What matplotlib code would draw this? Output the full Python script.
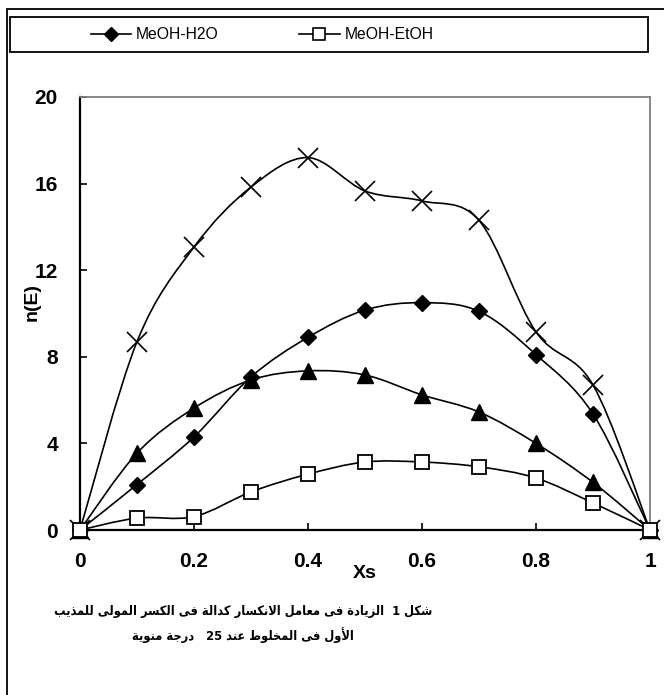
import matplotlib
matplotlib.use("Agg")
import matplotlib.pyplot as plt
from matplotlib.path import Path
from matplotlib.patches import PathPatch, Rectangle
from matplotlib.lines import Line2D
import numpy as np

plt.rcParams['font.family'] = ['Liberation Sans', 'DejaVu Sans']

xs = [0, 0.1, 0.2, 0.3, 0.4, 0.5, 0.6, 0.7, 0.8, 0.9, 1.0]
meoh_h2o = [0, 2.1, 4.3, 7.07, 8.9, 10.16, 10.5, 10.1, 8.1, 5.36, 0]
meoh_etoh = [0, 0.55, 0.62, 1.76, 2.58, 3.14, 3.14, 2.92, 2.4, 1.25, 0]
series_tri = [0, 3.55, 5.63, 6.93, 7.35, 7.16, 6.24, 5.45, 4.0, 2.2, 0]
series_x = [0, 8.7, 13.07, 15.84, 17.2, 15.66, 15.2, 14.3, 9.15, 6.7, 0]
xticks = [0, 0.2, 0.4, 0.6, 0.8, 1.0]
xticklabels = ["0", "0.2", "0.4", "0.6", "0.8", "1"]
yticks = [0, 4, 8, 12, 16, 20]
legend_labels = ["MeOH-H2O", "MeOH-EtOH"]
caption_lines = ["شكل 1  الزيادة فى معامل الانكسار كدالة فى الكسر المولى للمذيب",
                 "الأول فى المخلوط عند 25   درجة منوية"]

# ---- simple Arabic shaping (presentation forms) for LTR renderer ----
FORMS = {
    'ا': ('\uFE8D', '\uFE8E', None, None),
    'أ': ('\uFE83', '\uFE84', None, None),
    'ب': ('\uFE8F', '\uFE90', '\uFE91', '\uFE92'),
    'ة': ('\uFE93', '\uFE94', None, None),
    'ت': ('\uFE95', '\uFE96', '\uFE97', '\uFE98'),
    'ج': ('\uFE9D', '\uFE9E', '\uFE9F', '\uFEA0'),
    'خ': ('\uFEA5', '\uFEA6', '\uFEA7', '\uFEA8'),
    'د': ('\uFEA9', '\uFEAA', None, None),
    'ذ': ('\uFEAB', '\uFEAC', None, None),
    'ر': ('\uFEAD', '\uFEAE', None, None),
    'ز': ('\uFEAF', '\uFEB0', None, None),
    'س': ('\uFEB1', '\uFEB2', '\uFEB3', '\uFEB4'),
    'ش': ('\uFEB5', '\uFEB6', '\uFEB7', '\uFEB8'),
    'ط': ('\uFEC1', '\uFEC2', '\uFEC3', '\uFEC4'),
    'ع': ('\uFEC9', '\uFECA', '\uFECB', '\uFECC'),
    'ف': ('\uFED1', '\uFED2', '\uFED3', '\uFED4'),
    'ك': ('\uFED9', '\uFEDA', '\uFEDB', '\uFEDC'),
    'ل': ('\uFEDD', '\uFEDE', '\uFEDF', '\uFEE0'),
    'م': ('\uFEE1', '\uFEE2', '\uFEE3', '\uFEE4'),
    'ن': ('\uFEE5', '\uFEE6', '\uFEE7', '\uFEE8'),
    'ه': ('\uFEE9', '\uFEEA', '\uFEEB', '\uFEEC'),
    'و': ('\uFEED', '\uFEEE', None, None),
    'ى': ('\uFEEF', '\uFEF0', None, None),
    'ي': ('\uFEF1', '\uFEF2', '\uFEF3', '\uFEF4'),
    'LA': ('\uFEFB', '\uFEFC', None, None),
    'LAH': ('\uFEF7', '\uFEF8', None, None),
}


def shape_word(w):
    chars = []
    i = 0
    while i < len(w):
        c = w[i]
        if c == 'ل' and i + 1 < len(w) and w[i + 1] in ('ا', 'أ'):
            chars.append('LA' if w[i + 1] == 'ا' else 'LAH')
            i += 2
        else:
            chars.append(c)
            i += 1
    out = []
    for k, c in enumerate(chars):
        f = FORMS.get(c)
        if f is None:
            out.append(c)
            continue
        pf = FORMS.get(chars[k - 1]) if k > 0 else None
        nf = FORMS.get(chars[k + 1]) if k + 1 < len(chars) else None
        jp = pf is not None and pf[2] is not None
        jn = nf is not None and f[2] is not None
        if jp and jn:
            out.append(f[3])
        elif jp:
            out.append(f[1])
        elif jn:
            out.append(f[2])
        else:
            out.append(f[0])
    return ''.join(reversed(out))


def visual(line):
    res = []
    for w in reversed(line.split(' ')):
        if w and w[0].isdigit():
            res.append(w)
        else:
            res.append(shape_word(w))
    return ' '.join(res)


def smooth_path(x, y):
    pts = np.column_stack([x, y]).astype(float)
    n = len(pts)
    verts = [pts[0]]
    codes = [Path.MOVETO]
    for i in range(n - 1):
        p0 = pts[i - 1] if i > 0 else pts[i]
        p1 = pts[i]
        p2 = pts[i + 1]
        p3 = pts[i + 2] if i + 2 < n else pts[i + 1]
        c1 = p1 + (p2 - p0) / 6.0
        c2 = p2 - (p3 - p1) / 6.0
        verts += [c1, c2, p2]
        codes += [Path.CURVE4] * 3
    return Path(verts, codes)


fig = plt.figure(figsize=(6.64, 6.95), dpi=100)
ax = fig.add_axes([80 / 664, 1 - 530 / 695, 570 / 664, 433 / 695])

lw = 1.2
styles = [
    (series_x, dict(marker='x', markersize=14, markeredgewidth=1.2, color='black')),
    (series_tri, dict(marker='^', markersize=11, color='black')),
    (meoh_h2o, dict(marker='D', markersize=8, color='black')),
    (meoh_etoh, dict(marker='s', markersize=10, markerfacecolor='white',
                     markeredgecolor='black', markeredgewidth=1.3)),
]
for ys, st in styles:
    ax.add_patch(PathPatch(smooth_path(xs, ys), fill=False, lw=lw, edgecolor='black', zorder=2))
    ax.plot(xs, ys, linestyle='none', zorder=3, clip_on=False, **st)

ax.set_xlim(0, 1)
ax.set_ylim(0, 20)
ax.set_xticks(xticks)
ax.set_xticklabels(xticklabels)
ax.set_yticks(yticks)
ax.tick_params(direction='in', length=5, width=1.2, labelsize=15, pad=16)
for lab in ax.get_xticklabels() + ax.get_yticklabels():
    lab.set_fontweight('bold')
ax.spines['left'].set_color('black')
ax.spines['bottom'].set_color('black')
ax.spines['left'].set_linewidth(1.6)
ax.spines['bottom'].set_linewidth(1.6)
ax.spines['top'].set_color('#808080')
ax.spines['right'].set_color('#808080')
ax.spines['top'].set_linewidth(1.3)
ax.spines['right'].set_linewidth(1.3)

ax.set_xlabel('Xs', fontsize=14, fontweight='bold')
ax.xaxis.set_label_coords(0.5, -0.1)
ax.xaxis.label.set_va('center')
ax.set_ylabel('n(E)', fontsize=14, fontweight='bold')
ax.yaxis.set_label_coords(-0.084, 0.527)
ax.yaxis.label.set_va('center')

# outer frame and legend box
fig.add_artist(Rectangle((7 / 664, -0.05), 1.2, 1 - 9 / 695 + 0.05, transform=fig.transFigure,
                         fill=False, edgecolor='black', lw=1.3))
fig.add_artist(Rectangle((10 / 664, 1 - 52 / 695), 638 / 664, 35 / 695, transform=fig.transFigure,
                         fill=False, edgecolor='black', lw=1.3))

handles = [
    Line2D([], [], color='black', lw=lw, marker='D', markersize=7),
    Line2D([], [], color='black', lw=lw, marker='s', markersize=9,
           markerfacecolor='white', markeredgecolor='black', markeredgewidth=1.2),
]
fig.legend(handles, legend_labels, loc='center', bbox_to_anchor=(262 / 664, 1 - 34.5 / 695),
           ncol=2, frameon=False, fontsize=11.3, handlelength=2.6, handletextpad=0.3,
           columnspacing=5.1)

for txt, ypx in zip(caption_lines, (612, 635)):
    fig.text(243 / 664, 1 - ypx / 695, visual(txt), ha='center', va='center',
             fontsize=9.2, fontweight='bold', fontstretch='condensed', family=['DejaVu Sans'])

fig.savefig('out.png', dpi=100)
